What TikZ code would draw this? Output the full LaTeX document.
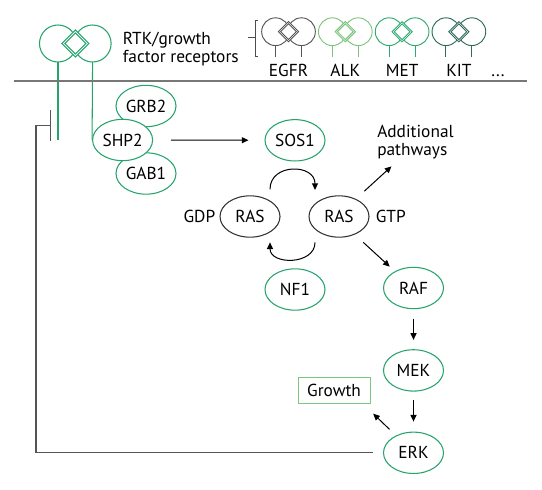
\documentclass[tikz,border=0pt]{standalone}
\usepackage{fontspec}
\setmainfont{PT Sans}
\usepackage{tikz}
\usetikzlibrary{arrows.meta,positioning,shapes.geometric}
\definecolor{rtkgreen}{HTML}{27A46E}
\definecolor{alkgreen}{HTML}{7CC47C}
\definecolor{metgreen}{HTML}{2CAA70}
\definecolor{kitgreen}{HTML}{2F6B5B}
\definecolor{egfrgrey}{HTML}{555555}
\definecolor{membgrey}{HTML}{777777}
\definecolor{fbgrey}{HTML}{555555}
\definecolor{growgreen}{HTML}{7DC67E}

\tikzset{
  receptor/.pic={
    \draw (-17.3,0) circle[radius=18.5];
    \draw (17.3,0) circle[radius=18.5];
    \draw (-17.3,-18.5) -- ++(0,-15);
    \draw (17.3,-18.5) -- ++(0,-15);
    \draw[fill=white] (0,13.5) -- (13.5,0) -- (0,-13.5) -- (-13.5,0) -- cycle;
    \draw (0,10.5) -- (10.5,0) -- (0,-10.5) -- (-10.5,0) -- cycle;
  }
}

\begin{document}
\begin{tikzpicture}[
  x=0.75pt,y=0.75pt,
  font=\fontsize{13}{13.3}\selectfont,
  node distance=30pt,
  prot/.style={ellipse,draw=rtkgreen,line width=0.8pt,fill=white,minimum width=45pt,minimum height=31pt,inner sep=0pt},
  ras/.style={prot,draw=black!80},
  arr/.style={-{Triangle[length=5pt,width=4.5pt]},line width=0.75pt},
  fb/.style={draw=fbgrey,line width=0.9pt},
  leg/.style={draw=rtkgreen,line width=0.8pt},
  lbl/.style={inner sep=0pt}
]
\useasboundingbox (0,0) rectangle (542,-489);

% receptors above the membrane
\pic[rtkgreen,line width=0.8pt] at (75.3,-43.5) {receptor};
\node[lbl,align=left,anchor=north west] (rtk) at (122.7,-32.3) {RTK/growth\\factor receptors};
\draw[black!70,line width=0.7pt] (248.3,-37.3) -- (255,-37.3) (258,-20) -- (255,-20) -- (255,-56.7) -- (258,-56.7);
\foreach \name/\col [count=\i from 0] in {EGFR/egfrgrey,ALK/alkgreen,MET/metgreen,KIT/kitgreen} {
  \pic[\col,scale=0.75,line width=0.7pt] at (288.5+56.8*\i,-31.7) {receptor};
  \node[lbl,anchor=base] at (288.5+56.8*\i,-76) {\name};
}
\node[lbl,anchor=base] (more) at (498,-76) {...};

% legs and membrane
\coordinate (rtkL) at (58,-62);
\coordinate (rtkR) at (92.6,-62);
\node[prot] (grb2) at (146,-106) {GRB2};
\node[prot] (gab1) at (146,-173.5) {GAB1};
\node[prot] (shp2) at (122.6,-140) {SHP2};
\draw[leg] (rtkL) -- ++(0,-78);
\draw[leg] (rtkR) -- (shp2.west);
\draw[membgrey,line width=1.5pt] (14,-81) -- (527,-81);

% RAS cycle
\node[prot] (sos1) at (295,-140.3) {SOS1};
\node[ras] (rasL) at (250,-216.5) {RAS};
\node[ras] (rasR) at (339,-216.5) {RAS};
\node[lbl,left=3pt of rasL] (gdp) {GDP};
\node[lbl,right=4.5pt of rasR] (gtp) {GTP};
\node[prot] (nf1) at (295,-289.5) {NF1};
\node[lbl,align=left,anchor=north west] (addl) at (377,-125.3) {Additional\\pathways};
\draw[arr,shorten <=13.5pt,shorten >=12pt] (shp2) -- (sos1);
\draw[arr] ([shift={(15pt,4.5pt)}]rasL.north) to[out=90,in=90,looseness=1.5] ([shift={(-18pt,4pt)}]rasR.north);
\draw[arr] ([shift={(-18pt,-3.5pt)}]rasR.south) to[out=-90,in=-90,looseness=1.3] ([shift={(15pt,-3.5pt)}]rasL.south);
\draw[arr] ([shift={(19pt,19pt)}]rasR.center) -- ([shift={(-18pt,-18pt)}]addl.center);

% MAPK cascade
\node[prot] (raf) at (413.5,-288) {RAF};
\node[prot,below=of raf] (mek) {MEK};
\node[prot,below=of mek] (erk) {ERK};
\node[draw=growgreen,line width=0.75pt,minimum width=54pt,minimum height=20pt,inner sep=0pt] (growth) at (334,-390.5) {Growth};
\draw[arr] ([shift={(18.2pt,-19.4pt)}]rasR.center) -- ([shift={(-17.8pt,16pt)}]raf.center);
\draw[arr,shorten <=7pt,shorten >=7pt] (raf) -- (mek);
\draw[arr,shorten <=6pt,shorten >=7.5pt] (mek) -- (erk);
\draw[arr] ([shift={(-18pt,17.6pt)}]erk.center) -- ([shift={(2pt,-7pt)}]growth.south east);

% negative feedback
\coordinate (fbtop) at (36,-125.7);
\coordinate (tbar) at (51,-125.7);
\draw[fb,-{Bar[width=23pt]}] ([xshift=-7.5pt]erk.west) -| (fbtop) -- (tbar);
\end{tikzpicture}
\end{document}
